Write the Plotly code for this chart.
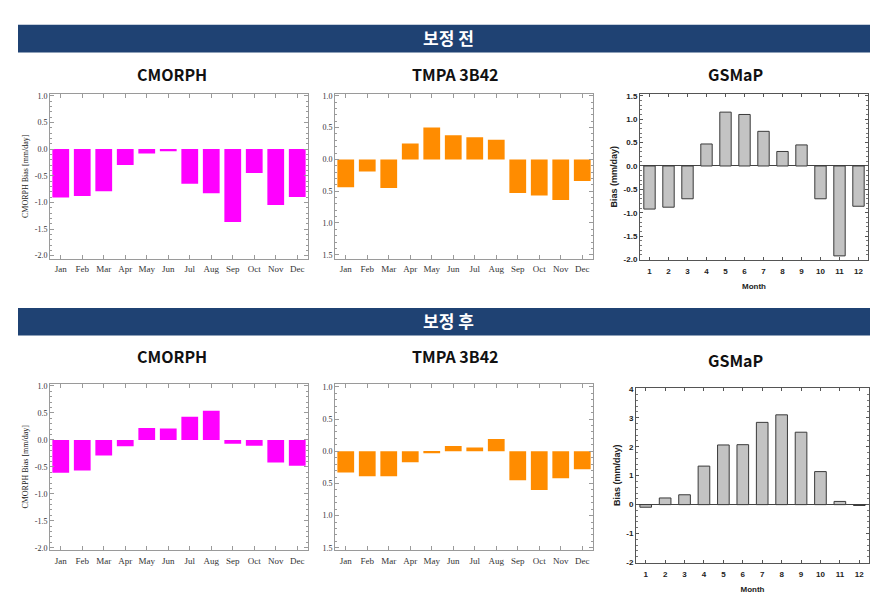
import plotly.graph_objects as go

# page body has an 8px margin: draw a 862x600 figure and shift pixel targets by 8
OFF = 8
W, H = 862, 600

# ---------------- data ----------------
months = ["Jan", "Feb", "Mar", "Apr", "May", "Jun", "Jul", "Aug", "Sep", "Oct", "Nov", "Dec"]
month_nums = [1, 2, 3, 4, 5, 6, 7, 8, 9, 10, 11, 12]

cmorph_before = [-0.91, -0.88, -0.79, -0.30, -0.08, -0.04, -0.65, -0.83, -1.37, -0.45, -1.05, -0.90]
tmpa_before = [-0.44, -0.19, -0.45, 0.25, 0.50, 0.38, 0.35, 0.31, -0.53, -0.57, -0.64, -0.34]
gsmap_before = [-0.92, -0.88, -0.70, 0.47, 1.15, 1.10, 0.74, 0.31, 0.45, -0.70, -1.92, -0.86]

cmorph_after = [-0.61, -0.57, -0.29, -0.12, 0.22, 0.21, 0.43, 0.54, -0.07, -0.11, -0.42, -0.48]
tmpa_after = [-0.33, -0.39, -0.39, -0.17, -0.03, 0.08, 0.06, 0.19, -0.45, -0.60, -0.42, -0.28]
gsmap_after = [-0.09, 0.23, 0.34, 1.33, 2.06, 2.07, 2.84, 3.10, 2.50, 1.14, 0.11, -0.03]

cm_tickvals = [1.0, 0.5, 0.0, -0.5, -1.0, -1.5, -2.0]
cm_ticktext = ["1.0", "0.5", "0.0", "-0.5", "-1.0", "-1.5", "-2.0"]
tm_tickvals = [1.0, 0.5, 0.0, -0.5, -1.0, -1.5]
tm_ticktext = ["1.0", "0.5", "0.0", "0.5", "1.0", "1.5"]
gs1_tickvals = [1.5, 1.0, 0.5, 0.0, -0.5, -1.0, -1.5, -2.0]
gs1_ticktext = ["1.5", "1.0", "0.5", "0.0", "-0.5", "-1.0", "-1.5", "-2.0"]
gs2_tickvals = [4, 3, 2, 1, 0, -1, -2]
gs2_ticktext = ["4", "3", "2", "1", "0", "-1", "-2"]

header_texts = ["보정 전", "보정 후"]
panel_titles = ["CMORPH", "TMPA 3B42", "GSMaP"]

# ---------------- layout helpers ----------------
def px(a):
    return (a - OFF) / W

def py(b):
    return 1 - (b - OFF) / H

def xd(a, b):
    return [px(a), px(b)]

def yd(top, bottom):
    return [py(bottom), py(top)]

fig = go.Figure()

serif = "Liberation Serif"
sans = "Liberation Sans"

panels = [
    (1, (50, 308), (92, 259), "cm", cmorph_before, [-2.056, 1.037], cm_tickvals, cm_ticktext),
    (2, (335, 593), (92, 259), "tm", tmpa_before, [-1.562, 1.031], tm_tickvals, tm_ticktext),
    (3, (640, 868), (92, 260), "gs", gsmap_before, [-2.0, 1.54], gs1_tickvals, gs1_ticktext),
    (4, (50, 308), (386, 554), "cm", cmorph_after, [-2.037, 1.037], cm_tickvals, cm_ticktext),
    (5, (335, 593), (386, 554), "tm", tmpa_after, [-1.53, 1.046], tm_tickvals, tm_ticktext),
    (6, (636, 869), (390, 567), "gs", gsmap_after, [-2.0, 4.03], gs2_tickvals, gs2_ticktext),
]

layout_axes = {}
for idx, xp, yp, kind, vals, yr, tv, tt in panels:
    xa = "x" if idx == 1 else f"x{idx}"
    ya = "y" if idx == 1 else f"y{idx}"
    xkey = "xaxis" if idx == 1 else f"xaxis{idx}"
    ykey = "yaxis" if idx == 1 else f"yaxis{idx}"
    if kind in ("cm", "tm"):
        color = "#ff00ff" if kind == "cm" else "#ff8c00"
        fig.add_trace(go.Bar(x=months, y=vals, marker=dict(color=color, line=dict(width=0)),
                             width=0.78, xaxis=xa, yaxis=ya, showlegend=False))
        layout_axes[xkey] = dict(domain=xd(*xp), anchor=ya, type="category",
                                 range=[-0.5, 11.5], showline=True, linecolor="#9a9a9a",
                                 linewidth=1, mirror="ticks", ticks="inside", ticklen=4,
                                 tickcolor="#9a9a9a", showgrid=False, zeroline=False,
                                 ticklabelstandoff=2,
                                 tickfont=dict(family=serif, size=9, color="#333"))
        layout_axes[ykey] = dict(domain=yd(*yp), anchor=xa, range=yr, tickvals=tv, ticktext=tt,
                                 showline=True, linecolor="#9a9a9a", linewidth=1, mirror="ticks",
                                 ticks="inside", ticklen=4, tickcolor="#9a9a9a", showgrid=False,
                                 zeroline=False,
                                 minor=dict(ticks="inside", ticklen=2, tickcolor="#9a9a9a", dtick=0.1),
                                 tickfont=dict(family=serif, size=8, color="#333"))
        if kind == "cm":
            layout_axes[ykey]["title"] = dict(text="CMORPH Bias [mm/day]", standoff=4,
                                              font=dict(family=serif, size=8, color="#222"))
    else:
        fig.add_trace(go.Bar(x=month_nums, y=vals,
                             marker=dict(color="#c3c3c3", line=dict(color="#3a3a3a", width=1)),
                             width=0.6, xaxis=xa, yaxis=ya, showlegend=False))
        layout_axes[xkey] = dict(domain=xd(*xp), anchor=ya, range=[0.5, 12.5],
                                 tickvals=month_nums, ticktext=[str(m) for m in month_nums],
                                 showline=True, linecolor="#555", linewidth=1, mirror="ticks",
                                 ticks="inside", ticklen=3, tickcolor="#555", showgrid=False,
                                 zeroline=False, ticklabelstandoff=4,
                                 tickfont=dict(family=sans, size=8, color="#222", weight="bold"),
                                 title=dict(text="<b>Month</b>", standoff=8,
                                            font=dict(family=sans, size=8, color="#222")))
        minor_dt = 0.1 if idx == 3 else 0.2
        layout_axes[ykey] = dict(domain=yd(*yp), anchor=xa, range=yr, tickvals=tv, ticktext=tt,
                                 showline=True, linecolor="#555", linewidth=1, mirror="ticks",
                                 ticks="inside", ticklen=3, tickcolor="#555", showgrid=False,
                                 zeroline=True, zerolinecolor="#444", zerolinewidth=1,
                                 minor=dict(ticks="inside", ticklen=2, tickcolor="#777", dtick=minor_dt),
                                 tickfont=dict(family=sans, size=8, color="#222", weight="bold"),
                                 title=dict(text="<b>Bias (mm/day)</b>", standoff=4,
                                            font=dict(family=sans, size=9, color="#222")))

# header bars
shapes = []
annotations = []
for (top, bot), text in zip([(22, 50), (309, 337)], header_texts):
    shapes.append(dict(type="rect", xref="paper", yref="paper", x0=px(18), x1=1.0,
                       y0=py(bot), y1=py(top), fillcolor="#1f4273",
                       line=dict(width=0), layer="below"))
    annotations.append(dict(text=f"<b>{text}</b>", xref="paper", yref="paper",
                            x=px(448), y=py((top + bot) / 2 - 1), showarrow=False,
                            xanchor="center", yanchor="middle",
                            font=dict(family="Noto Sans CJK KR", size=17, color="white")))

for ty, row in [(72, 0), (358, 1)]:
    for cx, t in zip([172, 455, 735], panel_titles):
        yy = ty + (4 if (row == 1 and t == "GSMaP") else 0)
        annotations.append(dict(text=f"<b>{t}</b>", xref="paper", yref="paper",
                                x=px(cx), y=py(yy), showarrow=False,
                                xanchor="center", yanchor="middle",
                                font=dict(family="Noto Sans CJK KR", size=16, color="#111")))

fig.update_layout(width=W, height=H, margin=dict(l=0, r=0, t=0, b=0),
                  paper_bgcolor="white", plot_bgcolor="white",
                  shapes=shapes, annotations=annotations, **layout_axes)

fig.write_html("out.html")
